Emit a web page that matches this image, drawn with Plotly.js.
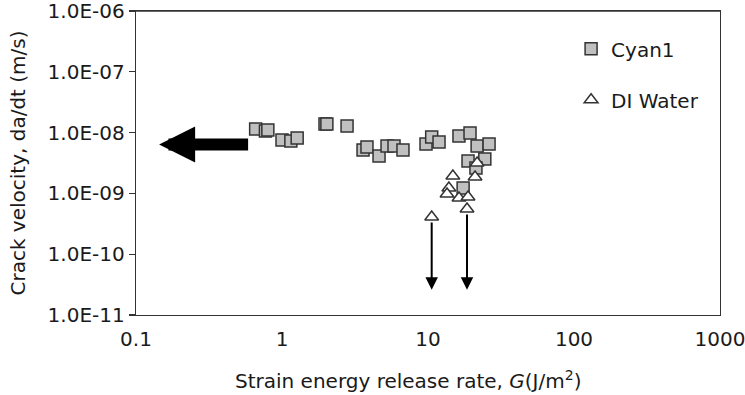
<!DOCTYPE html>
<html>
<head>
<meta charset="utf-8">
<script src="https://cdn.plot.ly/plotly-3.0.1.min.js"></script>
<style>html,body{margin:0;padding:0;background:#fff;}#chart{width:745px;height:395px;}</style>
</head>
<body>
<div id="chart"></div>
<script>
// Cyan1 series: strain energy release rate G (J/m^2) and crack velocity (m/s)
var cyanG = [0.66, 0.77, 0.80, 1.00, 1.15, 1.27, 1.97, 2.03, 2.79, 3.59, 3.82, 4.62, 5.24, 5.85, 6.74,
             9.69, 10.6, 11.9, 16.3, 19.4, 21.7, 26.2, 18.8, 24.5, 21.3, 17.4];
var cyanV = [1.15e-8, 1.06e-8, 1.10e-8, 7.55e-9, 7.27e-9, 8.15e-9, 1.38e-8, 1.38e-8, 1.28e-8, 5.18e-9,
             5.80e-9, 4.12e-9, 6.03e-9, 6.03e-9, 5.18e-9, 6.49e-9, 8.47e-9, 7.00e-9, 8.79e-9, 9.85e-9,
             6.03e-9, 6.49e-9, 3.41e-9, 3.68e-9, 2.62e-9, 1.23e-9];

// DI Water series
var waterG = [21.7, 21.0, 14.8, 13.9, 13.5, 16.3, 18.8, 18.5, 10.6];
var waterV = [3.16e-9, 1.86e-9, 1.93e-9, 1.23e-9, 9.77e-10, 8.40e-10, 8.72e-10, 5.53e-10, 4.09e-10];

// Upper-bound points (DI Water) whose true velocity is lower: arrows point down to this level
var boundG = [10.6, 18.5];
var boundV = [4.09e-10, 5.53e-10];
var boundArrowEndV = 2.6e-11;

// Trend arrow pointing toward lower G
var trendArrowFromG = 0.60, trendArrowToG = 0.144, trendArrowV = 6.4e-9;

// Axis ticks and titles
var xTickVals = [0.1, 1, 10, 100, 1000];
var xTickText = ['0.1', '1', '10', '100', '1000'];
var yTickVals = [1e-11, 1e-10, 1e-9, 1e-8, 1e-7, 1e-6];
var yTickText = ['1.0E-11', '1.0E-10', '1.0E-09', '1.0E-08', '1.0E-07', '1.0E-06'];
var xTitle = 'Strain energy release rate, <i>G</i>(J/m<sup>2</sup>)';
var yTitle = 'Crack velocity, da/dt (m/s)';

var FONT = 'DejaVu Sans, Verdana, sans-serif';
var FS = 20;
var lg = Math.log10;

var traces = [
  {
    x: cyanG, y: cyanV, type: 'scatter', mode: 'markers', name: 'Cyan1',
    legendgroup: 'a',
    marker: {symbol: 'square', size: 12, color: '#c0c0c0', line: {color: '#333333', width: 1.5}}
  },
  {
    x: waterG, y: waterV, type: 'scatter', mode: 'markers', name: 'DI Water',
    legendgroup: 'b',
    marker: {symbol: 'triangle-up', size: 12, color: '#ffffff', line: {color: '#333333', width: 1.5}}
  }
];

var annotations = [
  {
    x: lg(trendArrowToG), y: lg(trendArrowV), ax: lg(trendArrowFromG), ay: lg(trendArrowV),
    xref: 'x', yref: 'y', axref: 'x', ayref: 'y', text: '', showarrow: true,
    arrowhead: 2, arrowsize: 0.6, arrowwidth: 12, arrowcolor: '#000000'
  },
  {
    text: xTitle, showarrow: false, xref: 'paper', yref: 'paper',
    x: 0.466, y: -0.214, xanchor: 'center', yanchor: 'middle',
    font: {family: FONT, size: FS, color: '#1a1a1a'}
  }
];
for (var i = 0; i < boundG.length; i++) {
  annotations.push({
    x: lg(boundG[i]), y: lg(boundArrowEndV), ax: lg(boundG[i]), ay: lg(boundV[i]),
    xref: 'x', yref: 'y', axref: 'x', ayref: 'y', text: '', showarrow: true,
    arrowhead: 2, arrowsize: 1.25, arrowwidth: 2, arrowcolor: '#000000', startstandoff: 4
  });
}

var layout = {
  width: 745, height: 395,
  margin: {l: 136, r: 25, t: 11, b: 80},
  paper_bgcolor: '#ffffff', plot_bgcolor: '#ffffff',
  font: {family: FONT, size: FS, color: '#1a1a1a'},
  showlegend: true,
  legend: {
    x: 0.745, y: 0.94, xanchor: 'left', yanchor: 'top',
    bgcolor: 'rgba(0,0,0,0)', borderwidth: 0,
    font: {family: FONT, size: FS, color: '#1a1a1a'},
    traceorder: 'grouped', tracegroupgap: 22
  },
  xaxis: {
    type: 'log', range: [-1, 3], automargin: false,
    tickmode: 'array', tickvals: xTickVals, ticktext: xTickText,
    ticks: 'outside', ticklen: 6, tickcolor: 'rgba(0,0,0,0)',
    ticklabeloverflow: 'allow',
    showgrid: false, zeroline: false,
    showline: true, linecolor: '#333333', linewidth: 1.3, mirror: true,
    tickfont: {family: FONT, size: FS}
  },
  yaxis: {
    type: 'log', range: [-11, -6], automargin: false,
    tickmode: 'array', tickvals: yTickVals, ticktext: yTickText,
    ticks: 'outside', ticklen: 6, tickcolor: '#333333', tickwidth: 1.3,
    ticklabeloverflow: 'allow',
    showgrid: false, zeroline: false,
    showline: true, linecolor: '#333333', linewidth: 1.3, mirror: true,
    tickfont: {family: FONT, size: FS},
    title: {text: yTitle, font: {family: FONT, size: FS}, standoff: 16}
  },
  shapes: [
    {type: 'line', xref: 'paper', yref: 'paper', x0: 0, x1: 1, y0: 1, y1: 1,
     line: {color: '#333333', width: 1.3}}
  ],
  annotations: annotations
};

Plotly.newPlot('chart', traces, layout, {staticPlot: true, displayModeBar: false});
</script>
</body>
</html>
